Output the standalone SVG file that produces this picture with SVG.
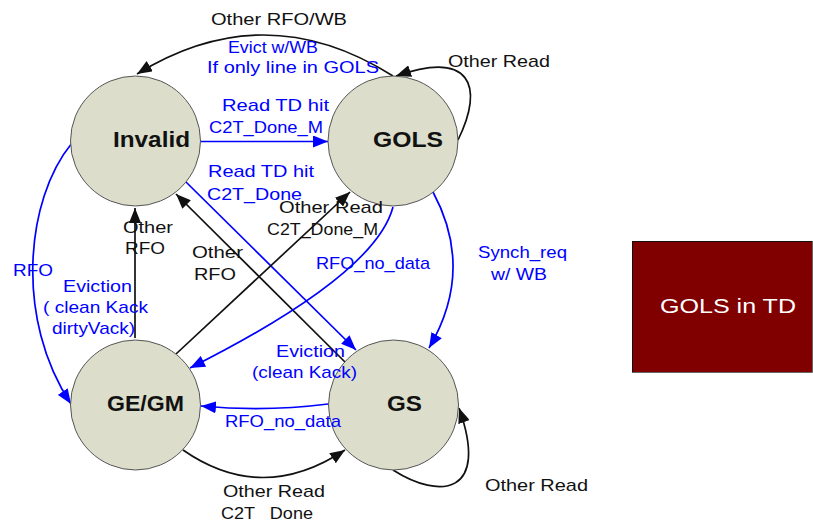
<svg xmlns="http://www.w3.org/2000/svg" width="813" height="522" viewBox="0 0 813 522">
<defs>
<style>
.st{fill:#dcdecb;stroke:#555;stroke-width:1}
.sn{font-family:"Liberation Sans",Arial,sans-serif;font-size:22px;font-weight:bold;fill:#111}
.lb{font-family:"Liberation Sans",Arial,sans-serif;font-size:17px;fill:#0000ff}
.lk{font-family:"Liberation Sans",Arial,sans-serif;font-size:17px;fill:#111}
.ck{fill:none;stroke:#111;stroke-width:1.7}
.cb{fill:none;stroke:#0000ff;stroke-width:1.7}
</style>
<marker id="ak" markerUnits="userSpaceOnUse" markerWidth="16" markerHeight="12" refX="15" refY="6" orient="auto"><path d="M0,0 L15,6 L0,12 z" fill="#111"/></marker>
<marker id="ab" markerUnits="userSpaceOnUse" markerWidth="16" markerHeight="12" refX="15" refY="6" orient="auto"><path d="M0,0 L15,6 L0,12 z" fill="#0000ff"/></marker>
</defs>
<rect width="813" height="522" fill="#fff"/>

<g id="connectors">
<path class="ck" d="M393 76 Q265 -5 137 74" marker-end="url(#ak)"/>
<path class="ck" d="M458 140 C485 85,470 50,396 76" marker-end="url(#ak)"/>
<path class="cb" d="M200 141.5 L328 141.5" marker-end="url(#ab)"/>
<path class="cb" d="M186 182 L356 350" marker-end="url(#ab)"/>
<path class="ck" d="M345 362 L176 194" marker-end="url(#ak)"/>
<path class="ck" d="M176 354 L350 192" marker-end="url(#ak)"/>
<path class="ck" d="M135 338 L135 208" marker-end="url(#ak)"/>
<path class="cb" d="M393 207 Q375 275 190 368" marker-end="url(#ab)"/>
<path class="cb" d="M433 192 Q475 270 429 348" marker-end="url(#ab)"/>
<path class="cb" d="M72 143 C25 200,15 320,71 404" marker-end="url(#ab)"/>
<path class="cb" d="M328 404 Q265 412 201 406" marker-end="url(#ab)"/>
<path class="ck" d="M183 450 Q262 505 345 450" marker-end="url(#ak)"/>
<path class="ck" d="M393 470 C440 500,490 495,459 408" marker-end="url(#ak)"/>
</g>

<g id="node-invalid">
<circle class="st" cx="135.5" cy="141" r="65"/>
<text class="sn" x="113" y="147" textLength="77" lengthAdjust="spacingAndGlyphs">Invalid</text>
</g>
<g id="node-gols">
<circle class="st" cx="393" cy="141" r="65"/>
<text class="sn" x="373" y="147" textLength="70" lengthAdjust="spacingAndGlyphs">GOLS</text>
</g>
<g id="node-gegm">
<circle class="st" cx="135.5" cy="405" r="65"/>
<text class="sn" x="107" y="411" textLength="77" lengthAdjust="spacingAndGlyphs">GE/GM</text>
</g>
<g id="node-gs">
<circle class="st" cx="393.5" cy="405" r="65"/>
<text class="sn" x="387" y="411" textLength="35" lengthAdjust="spacingAndGlyphs">GS</text>
</g>
<g id="node-gols-in-td">
<rect x="632" y="241" width="180" height="132" fill="#800000"/>
<path d="M632.5 373 V241.5 H812" fill="none" stroke="#111" stroke-width="1"/>
<path d="M632 372.5 H812.5 V241" fill="none" stroke="#666" stroke-width="1"/>
<text x="660" y="313" font-family="'Liberation Sans',Arial,sans-serif" font-size="21" fill="#fff" textLength="136" lengthAdjust="spacingAndGlyphs">GOLS in TD</text>
</g>

<g id="labels">
<text class="lk" x="211" y="25" textLength="136" lengthAdjust="spacingAndGlyphs">Other RFO/WB</text>
<text class="lb" x="228" y="53" textLength="90" lengthAdjust="spacingAndGlyphs">Evict w/WB</text>
<text class="lb" x="207" y="73" textLength="172" lengthAdjust="spacingAndGlyphs">If only line in GOLS</text>
<text class="lk" x="448" y="67" textLength="102" lengthAdjust="spacingAndGlyphs">Other Read</text>
<text class="lb" x="222" y="111" textLength="107" lengthAdjust="spacingAndGlyphs">Read TD hit</text>
<text class="lb" x="209" y="133" textLength="114" lengthAdjust="spacingAndGlyphs">C2T_Done_M</text>
<text class="lb" x="208" y="177" textLength="106" lengthAdjust="spacingAndGlyphs">Read TD hit</text>
<text class="lb" x="207" y="200" textLength="95" lengthAdjust="spacingAndGlyphs">C2T_Done</text>
<text class="lk" x="279" y="213" textLength="104" lengthAdjust="spacingAndGlyphs">Other Read</text>
<text class="lk" x="267" y="235" textLength="111" lengthAdjust="spacingAndGlyphs">C2T_Done_M</text>
<text class="lk" x="123" y="233" textLength="50" lengthAdjust="spacingAndGlyphs">Other</text>
<text class="lk" x="125" y="254" textLength="40" lengthAdjust="spacingAndGlyphs">RFO</text>
<text class="lk" x="192" y="258" textLength="51" lengthAdjust="spacingAndGlyphs">Other</text>
<text class="lk" x="194" y="280" textLength="42" lengthAdjust="spacingAndGlyphs">RFO</text>
<text class="lb" x="316" y="269" textLength="114" lengthAdjust="spacingAndGlyphs">RFO_no_data</text>
<text class="lb" x="478" y="258" textLength="89" lengthAdjust="spacingAndGlyphs">Synch_req</text>
<text class="lb" x="491" y="280" textLength="56" lengthAdjust="spacingAndGlyphs">w/ WB</text>
<text class="lb" x="13" y="276" textLength="40" lengthAdjust="spacingAndGlyphs">RFO</text>
<text class="lb" x="63" y="292" textLength="69" lengthAdjust="spacingAndGlyphs">Eviction</text>
<text class="lb" x="43" y="313" textLength="105" lengthAdjust="spacingAndGlyphs">( clean Kack</text>
<text class="lb" x="52" y="334" textLength="83" lengthAdjust="spacingAndGlyphs">dirtyVack)</text>
<text class="lb" x="276" y="357" textLength="69" lengthAdjust="spacingAndGlyphs">Eviction</text>
<text class="lb" x="252" y="378" textLength="105" lengthAdjust="spacingAndGlyphs">(clean Kack)</text>
<text class="lb" x="225" y="427" textLength="116" lengthAdjust="spacingAndGlyphs">RFO_no_data</text>
<text class="lk" x="223" y="497" textLength="102" lengthAdjust="spacingAndGlyphs">Other Read</text>
<text class="lk" x="221" y="519" textLength="92" lengthAdjust="spacingAndGlyphs" xml:space="preserve">C2T   Done</text>
<text class="lk" x="485" y="491" textLength="103" lengthAdjust="spacingAndGlyphs">Other Read</text>
</g>
</svg>
